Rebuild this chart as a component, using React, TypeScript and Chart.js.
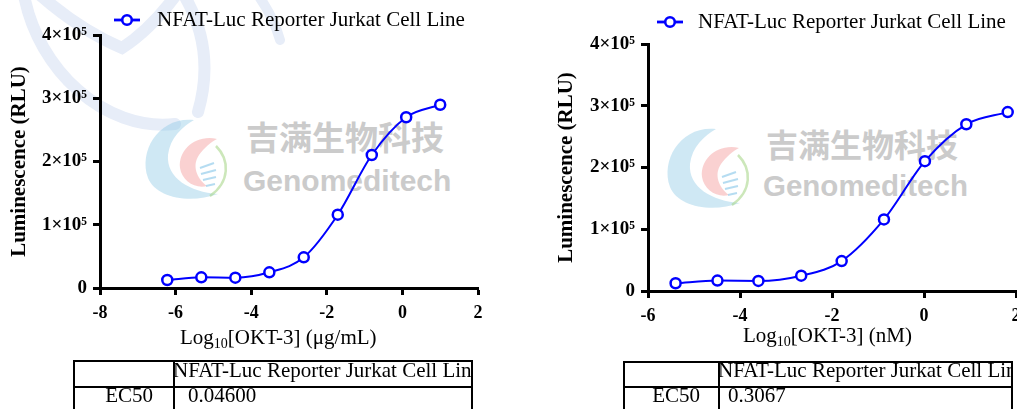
import React, { useEffect, useRef } from 'react';
import { Chart, registerables } from 'chart.js';

Chart.register(...registerables);

// ---------------- data ----------------
const seriesName = 'NFAT-Luc Reporter Jurkat Cell Line';
const logConcUgPerMl = [-6.22, -5.32, -4.42, -3.52, -2.61, -1.71, -0.81, 0.1, 1.0];
const logConcNm = [-5.4, -4.49, -3.6, -2.67, -1.79, -0.87, 0.02, 0.92, 1.82];
const luminescence = [12600, 16900, 16300, 24800, 48500, 115900, 210300, 270000, 289700];
const yTickValues = [0, 100000, 200000, 300000, 400000];
const yTickLabels = ['0', '1×10⁵', '2×10⁵', '3×10⁵', '4×10⁵'];
const leftXTicks = [-8, -6, -4, -2, 0, 2];
const rightXTicks = [-6, -4, -2, 0, 2];
const xTitlePrefix = 'Log';
const xTitleSub = '10';
const leftXTitleRest = '[OKT-3] (μg/mL)';
const rightXTitleRest = '[OKT-3] (nM)';
const yTitle = 'Luminescence (RLU)';
const ec50Label = 'EC50';
const ec50Left = '0.04600';
const ec50Right = '0.3067';
const watermarkCn = '吉满生物科技';
const watermarkEn = 'Genomeditech';

const BLUE = '#0000ff';
const SERIF = '"Liberation Serif", "Times New Roman", serif';

type ChartProps = {
  xs: number[];
  ys: number[];
  xMin: number;
  xMax: number;
  xTicks: number[];
  left: number;
  top: number;
  width: number;
  height: number;
  padTop: number;
  padRight: number;
  yAxisWidth: number;
  xAxisHeight: number;
  yTitlePad: number;
};

function LumChart(p: ChartProps) {
  const ref = useRef<HTMLCanvasElement | null>(null);
  useEffect(() => {
    if (!ref.current) return;
    const chart = new Chart(ref.current, {
      type: 'line',
      data: {
        datasets: [
          {
            label: seriesName,
            data: p.xs.map((x, i) => ({ x, y: p.ys[i] })),
            borderColor: BLUE,
            borderWidth: 2,
            pointRadius: 5,
            pointBorderWidth: 2.5,
            pointBackgroundColor: '#ffffff',
            pointBorderColor: BLUE,
            cubicInterpolationMode: 'monotone',
            fill: false,
          } as any,
        ],
      },
      options: {
        animation: false,
        responsive: false,
        devicePixelRatio: 1,
        layout: { padding: { left: 0, right: p.padRight, top: p.padTop, bottom: 0 } },
        plugins: { legend: { display: false }, tooltip: { enabled: false } },
        scales: {
          x: {
            type: 'linear',
            min: p.xMin,
            max: p.xMax,
            afterBuildTicks: (s: any) => {
              s.ticks = p.xTicks.map((v) => ({ value: v }));
            },
            afterFit: (s: any) => {
              s.height = p.xAxisHeight;
            },
            border: { display: true, color: '#000', width: 3 },
            grid: { drawOnChartArea: false, drawTicks: true, tickLength: 7, tickWidth: 3, color: '#000' },
            ticks: {
              color: '#000',
              font: { family: SERIF, size: 18, weight: 'bold' },
              padding: 8,
              maxRotation: 0,
              autoSkip: false,
            },
            title: { display: false },
          },
          y: {
            type: 'linear',
            min: 0,
            max: 400000,
            afterBuildTicks: (s: any) => {
              s.ticks = yTickValues.map((v) => ({ value: v }));
            },
            afterFit: (s: any) => {
              s.width = p.yAxisWidth;
            },
            border: { display: true, color: '#000', width: 3 },
            grid: { drawOnChartArea: false, drawTicks: true, tickLength: 7, tickWidth: 3, color: '#000' },
            ticks: {
              color: '#000',
              font: { family: SERIF, size: 19, weight: 'bold' },
              padding: 6,
              autoSkip: false,
              callback: (_v: any, i: number) => yTickLabels[i],
            },
            title: {
              display: true,
              text: yTitle,
              color: '#000',
              font: { family: SERIF, size: 21, weight: 'bold' },
              padding: { top: p.yTitlePad, bottom: 0 },
            },
          },
        },
      } as any,
    });
    return () => chart.destroy();
  }, []);
  return (
    <canvas
      ref={ref}
      width={p.width}
      height={p.height}
      style={{ position: 'absolute', left: p.left, top: p.top, width: p.width, height: p.height, display: 'block' }}
    />
  );
}

function XTitle({ left, top, rest }: { left: number; top: number; rest: string }) {
  return (
    <div
      style={{
        position: 'absolute',
        left,
        top,
        fontFamily: SERIF,
        fontSize: 21,
        lineHeight: '21px',
        whiteSpace: 'nowrap',
        color: '#000',
      }}
    >
      {xTitlePrefix}
      <span style={{ fontSize: 14, verticalAlign: '-4px', lineHeight: '14px' }}>{xTitleSub}</span>
      {rest}
    </div>
  );
}

function Logo({ dx, dy }: { dx: number; dy: number }) {
  return (
    <g transform={`translate(${dx},${dy})`}>
      <path
        d="M 194 120 C 160 116, 138 150, 148 178 C 156 198, 190 204, 218 194 C 190 192, 166 178, 168 155 C 170 138, 182 127, 194 120 Z"
        fill="rgba(140,200,228,0.42)"
      />
      <path
        d="M 217 139 C 196 134, 178 150, 180 168 C 182 181, 195 189, 207 186 C 196 178, 192 165, 199 155 C 204 148, 211 142, 217 139 Z"
        fill="rgba(242,140,140,0.4)"
      />
      <path d="M 216 146 C 230 160, 230 182, 210 196" stroke="rgba(170,215,140,0.6)" strokeWidth={2.5} fill="none" />
      <path
        d="M 200 168 L 214 163 M 201 174 L 216 170 M 203 180 L 216 177 M 206 186 L 215 184"
        stroke="rgba(150,205,235,0.7)"
        strokeWidth={2}
        fill="none"
      />
    </g>
  );
}

function Legend({ cx, cy, textLeft, textTop }: { cx: number; cy: number; textLeft: number; textTop: number }) {
  return (
    <>
      <svg style={{ position: 'absolute', left: cx - 15, top: cy - 8, width: 30, height: 16, overflow: 'visible' }}>
        <line x1={2} y1={8} x2={28} y2={8} stroke={BLUE} strokeWidth={2.8} />
        <circle cx={15} cy={8} r={4.8} stroke={BLUE} strokeWidth={2.6} fill="#fff" />
      </svg>
      <div
        style={{
          position: 'absolute',
          left: textLeft,
          top: textTop,
          fontFamily: SERIF,
          fontSize: 21,
          lineHeight: '21px',
          whiteSpace: 'nowrap',
          color: '#000',
        }}
      >
        {seriesName}
      </div>
    </>
  );
}

function Ec50Table(t: {
  left: number;
  top: number;
  width: number;
  sepX: number;
  rowY: number;
  headTop: number;
  rowTop: number;
  labelRight: number;
  valueLeft: number;
  value: string;
}) {
  const txt: React.CSSProperties = {
    position: 'absolute',
    fontFamily: SERIF,
    fontSize: 21,
    lineHeight: '21px',
    whiteSpace: 'nowrap',
    color: '#000',
  };
  return (
    <div
      style={{
        position: 'absolute',
        left: t.left,
        top: t.top,
        width: t.width,
        height: 60,
        border: '2px solid #000',
        boxSizing: 'border-box',
        overflow: 'hidden',
        background: '#fff',
      }}
    >
      <div style={{ position: 'absolute', left: 0, right: 0, top: t.rowY, height: 2, background: '#000' }} />
      <div style={{ position: 'absolute', left: t.sepX, width: 2, top: 0, bottom: 0, background: '#000' }} />
      <div style={{ ...txt, left: t.sepX, top: t.headTop }}>{seriesName}</div>
      <div style={{ ...txt, right: t.width - 4 - t.labelRight, top: t.rowTop, textAlign: 'right' }}>{ec50Label}</div>
      <div style={{ ...txt, left: t.valueLeft, top: t.rowTop }}>{t.value}</div>
    </div>
  );
}

const wmCn: React.CSSProperties = {
  position: 'absolute',
  fontFamily: '"Noto Sans CJK SC", sans-serif',
  fontWeight: 700,
  color: '#cbcbcb',
  lineHeight: 1,
  whiteSpace: 'nowrap',
};
const wmEn: React.CSSProperties = {
  position: 'absolute',
  fontFamily: '"Liberation Sans", Arial, sans-serif',
  fontWeight: 700,
  color: '#cbcbcb',
  lineHeight: 1,
  whiteSpace: 'nowrap',
};

export default function App() {
  return (
    <div
      style={{
        position: 'fixed',
        left: 0,
        top: 0,
        width: 1017,
        height: 409,
        overflow: 'hidden',
        background: '#fff',
      }}
    >
      <svg style={{ position: 'absolute', left: 0, top: 0, width: 1017, height: 409 }}>
        <g fill="none" stroke="rgb(231,237,248)" strokeLinecap="round">
          <path d="M 24 -5 C 38 70, 105 132, 175 124" strokeWidth={12} />
          <path d="M 40 -5 Q 80 30 122 48 Q 150 30 176 -5" strokeWidth={12} />
          <path d="M 184 -5 Q 216 50 198 112" strokeWidth={12} />
          <path d="M 258 -5 Q 274 18 280 40" strokeWidth={10} />
        </g>
        <Logo dx={0} dy={0} />
        <Logo dx={522} dy={9} />
      </svg>
      <div style={{ ...wmCn, left: 246, top: 120, fontSize: 33 }}>{watermarkCn}</div>
      <div style={{ ...wmEn, left: 243, top: 166, fontSize: 30 }}>{watermarkEn}</div>
      <div style={{ ...wmCn, left: 766, top: 127, fontSize: 32 }}>{watermarkCn}</div>
      <div style={{ ...wmEn, left: 763, top: 171, fontSize: 29.5 }}>{watermarkEn}</div>

      <LumChart
        xs={logConcUgPerMl}
        ys={luminescence}
        xMin={-8}
        xMax={2}
        xTicks={leftXTicks}
        left={0}
        top={0}
        width={500}
        height={352}
        padTop={35}
        padRight={22}
        yAxisWidth={100}
        xAxisHeight={64}
        yTitlePad={7}
      />
      <LumChart
        xs={logConcNm}
        ys={luminescence}
        xMin={-6}
        xMax={2}
        xTicks={rightXTicks}
        left={520}
        top={0}
        width={520}
        height={355}
        padTop={44}
        padRight={24}
        yAxisWidth={128}
        xAxisHeight={64}
        yTitlePad={34}
      />

      <XTitle left={180} top={327} rest={leftXTitleRest} />
      <XTitle left={743} top={325} rest={rightXTitleRest} />

      <Legend cx={127} cy={20} textLeft={157} textTop={9} />
      <Legend cx={670} cy={22} textLeft={698} textTop={11} />

      <Ec50Table left={73} top={360} width={400} sepX={98} rowY={24} headTop={-2} rowTop={23} labelRight={78} valueLeft={113} value={ec50Left} />
      <Ec50Table left={623} top={361} width={390} sepX={93} rowY={23} headTop={-3} rowTop={22} labelRight={75} valueLeft={103} value={ec50Right} />
    </div>
  );
}
